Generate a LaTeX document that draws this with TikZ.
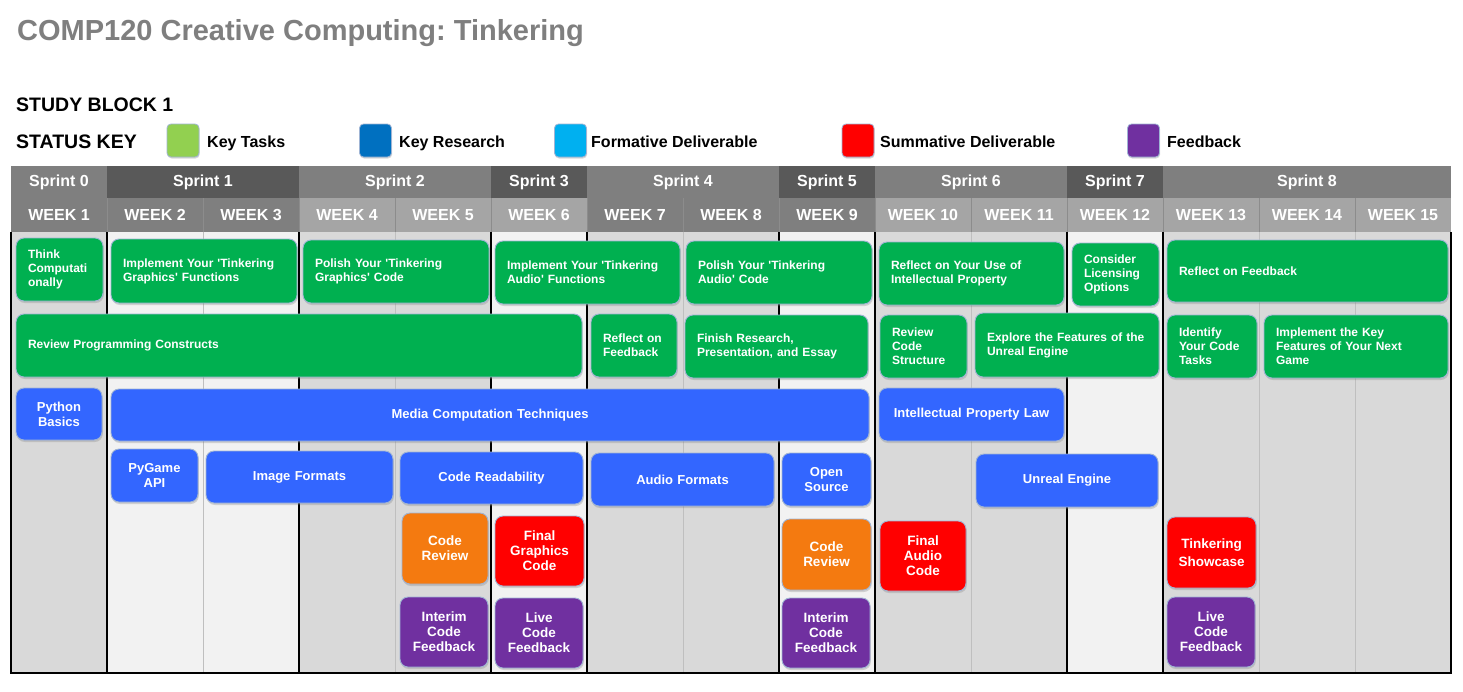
\documentclass[tikz,border=0pt]{standalone}
\usepackage{fontspec}
\setmainfont{Liberation Sans}[Ligatures=TeXOff]
\usetikzlibrary{shadows}
\frenchspacing

\definecolor{hdrmid}{HTML}{7F7F7F}
\definecolor{hdrdark}{HTML}{595959}
\definecolor{hdrlight}{HTML}{A5A5A5}
\definecolor{hdrline}{HTML}{8C8C8C}
\definecolor{coldark}{HTML}{D9D9D9}
\definecolor{collight}{HTML}{F2F2F2}
\definecolor{weekline}{HTML}{BFBFBF}
\definecolor{taskgreen}{HTML}{00B050}
\definecolor{resblue}{HTML}{3366FF}
\definecolor{revorange}{HTML}{F47A10}
\definecolor{summred}{HTML}{FF0000}
\definecolor{fbpurple}{HTML}{7030A0}
\definecolor{keygreen}{HTML}{92D050}
\definecolor{keyblue}{HTML}{0070C0}
\definecolor{keycyan}{HTML}{00B0F0}
\definecolor{boxedge}{HTML}{9FB4D4}
\definecolor{titlegray}{HTML}{7F7F7F}

% card: name, style, side padding, x1, y1, x2, y2, text
\newcommand\tbox[8]{%
  \pgfmathsetmacro\tbw{#6-#4-2*#3}%
  \pgfmathsetmacro\tbh{#7-#5}%
  \pgfmathsetmacro\tbx{(#4+#6)/2}%
  \pgfmathsetmacro\tby{(#5+#7)/2}%
  \node[#2, inner xsep=#3pt, text width=\tbw pt, minimum height=\tbh pt] (#1) at (\tbx,\tby) {#8};}

\begin{document}
\begin{tikzpicture}[x=1pt,y=-1pt,
  hcell/.style={draw=none, inner sep=0pt, text=white,
    font=\fontsize{16}{18}\selectfont\bfseries},
  card/.style={rounded corners=8pt, draw=boxedge, line width=0.9pt, text=white,
    inner ysep=2pt,
    drop shadow={shadow xshift=0.8pt, shadow yshift=-2pt, opacity=0.3}},
  tasknode/.style={card, fill=taskgreen, align=left,
    font=\fontsize{12}{14}\selectfont\bfseries},
  resnode/.style={card, fill=resblue, align=center,
    font=\fontsize{13}{15}\selectfont\bfseries},
  reviewnode/.style={card, fill=revorange, align=center,
    font=\fontsize{13.5}{15}\selectfont\bfseries},
  summnode/.style={card, fill=summred, align=center,
    font=\fontsize{13.5}{15}\selectfont\bfseries},
  fbnode/.style={card, fill=fbpurple, align=center,
    font=\fontsize{13.5}{15}\selectfont\bfseries},
  swatch/.style={rounded corners=4pt, draw=boxedge, line width=0.8pt,
    minimum width=32pt, minimum height=33pt, inner sep=0pt,
    drop shadow={shadow xshift=0.6pt, shadow yshift=-1.5pt, opacity=0.3}},
  keytext/.style={anchor=base west, inner sep=0pt,
    font=\fontsize{16}{18}\selectfont\bfseries},
  heading/.style={anchor=base west, inner sep=0pt,
    font=\fontsize{19.5}{22}\selectfont\bfseries}
]
\useasboundingbox (0,0) rectangle (1463,691);
\fill[white] (0,0) rectangle (1463,691);

% title and key
\node[anchor=base west, inner sep=0pt, text=titlegray,
  font=\fontsize{29}{33}\selectfont\bfseries] (title) at (17,40)
  {COMP120 Creative Computing: Tinkering};
\node[heading] (block) at (16,111) {STUDY BLOCK 1};
\node[heading] (statuskey) at (16,148) {STATUS KEY};

\node[swatch, fill=keygreen] (swtask) at (183,140.5) {};
\node[keytext] (lbtask) at (207,147) {Key Tasks};
\node[swatch, fill=keyblue] (swres) at (375.5,140.5) {};
\node[keytext] (lbres) at (399,147) {Key Research};
\node[swatch, fill=keycyan] (swform) at (570.5,140.5) {};
\node[keytext] (lbform) at (591,147) {Formative Deliverable};
\node[swatch, fill=summred] (swsumm) at (858,140.5) {};
\node[keytext] (lbsumm) at (880,147) {Summative Deliverable};
\node[swatch, fill=fbpurple] (swfb) at (1143.5,140.5) {};
\node[keytext] (lbfb) at (1167,147) {Feedback};

% column backgrounds, one shade per sprint
\foreach \a/\b/\c in {0/1/coldark,1/3/collight,3/5/coldark,5/6/collight,
    6/8/coldark,8/9/collight,9/11/coldark,11/12/collight,12/15/coldark}
  \fill[\c] ({11+96*\a},232) rectangle ({11+96*\b},673);
\foreach \i in {2,4,7,10,13,14}
  \draw[weekline, line width=0.8pt] ({11+96*\i},232) -- ({11+96*\i},673);
\foreach \i in {1,3,5,6,8,9,11,12}
  \draw[black, line width=1.2pt] ({11+96*\i},232) -- ({11+96*\i},673);
\draw[black, line width=1.2pt] (11,232) -- (11,673) -- (1451,673) -- (1451,232);

% sprint row
\foreach \n/\a/\b/\c in {0/0/1/hdrmid,1/1/3/hdrdark,2/3/5/hdrmid,3/5/6/hdrdark,
    4/6/8/hdrmid,5/8/9/hdrdark,6/9/11/hdrmid,7/11/12/hdrdark,8/12/15/hdrmid}
  \node[hcell, fill=\c, minimum height=32pt,
    minimum width={96*(\b-\a)*1pt}] (sprint\n) at ({11+48*(\a+\b)},182) {Sprint \n};

% week row
\foreach \w/\c in {1/hdrmid,2/hdrmid,3/hdrmid,4/hdrlight,5/hdrlight,6/hdrlight,
    7/hdrmid,8/hdrmid,9/hdrmid,10/hdrlight,11/hdrlight,12/hdrlight,
    13/hdrlight,14/hdrlight,15/hdrlight}
  \node[hcell, fill=\c, minimum height=34pt, minimum width=96pt]
    (week\w) at ({96*\w-37},215) {WEEK \w};
\foreach \i in {1,...,14}
  \draw[hdrline, line width=0.8pt] ({11+96*\i},198) -- ({11+96*\i},232);

% key tasks
\tbox{think}{tasknode}{12}{16}{238}{103}{301}{Think\\Computati\\onally}
\tbox{implgfx}{tasknode}{12}{111}{239}{297}{303}{Implement Your 'Tinkering\\Graphics' Functions}
\tbox{polgfx}{tasknode}{12}{303}{240}{489}{303}{Polish Your 'Tinkering\\Graphics' Code}
\tbox{implaud}{tasknode}{12}{495}{241}{680}{304}{Implement Your 'Tinkering\\Audio' Functions}
\tbox{polaud}{tasknode}{12}{686}{241}{872}{304}{Polish Your 'Tinkering\\Audio' Code}
\tbox{reflip}{tasknode}{12}{879}{242}{1064}{305}{Reflect on Your Use of\\Intellectual Property}
\tbox{licence}{tasknode}{12}{1072}{243}{1159}{306}{Consider\\Licensing\\Options}
\tbox{reflfbb}{tasknode}{12}{1167}{240}{1448}{302}{Reflect on Feedback}

\tbox{revprog}{tasknode}{12}{16}{314}{582}{377}{Review Programming Constructs}
\tbox{reflfba}{tasknode}{12}{591}{314}{677}{377}{Reflect on\\Feedback}
\tbox{finish}{tasknode}{12}{685}{315}{868}{378}{Finish Research,\\Presentation, and Essay}
\tbox{revcode}{tasknode}{12}{880}{315}{967}{378}{Review\\Code\\Structure}
\tbox{explore}{tasknode}{12}{975}{313}{1159}{377}{Explore the Features of the\\Unreal Engine}
\tbox{identify}{tasknode}{12}{1167}{315}{1257}{378}{Identify\\Your Code\\Tasks}
\tbox{implkey}{tasknode}{12}{1264}{315}{1448}{378}{Implement the Key\\Features of Your Next\\Game}

% key research
\tbox{python}{resnode}{6}{16}{388}{102}{440}{Python\\Basics}
\tbox{media}{resnode}{6}{111}{389}{869}{441}{Media Computation Techniques}
\tbox{iplaw}{resnode}{6}{879}{388}{1064}{441}{Intellectual Property Law}

\tbox{pygame}{resnode}{6}{111}{449}{198}{502}{PyGame\\API}
\tbox{imgfmt}{resnode}{6}{206}{451}{393}{503}{Image Formats}
\tbox{readab}{resnode}{6}{400}{452}{583}{504}{Code Readability}
\tbox{audfmt}{resnode}{6}{591}{453}{774}{506}{Audio Formats}
\tbox{opensrc}{resnode}{6}{782}{453}{871}{506}{Open\\Source}
\tbox{unreal}{resnode}{6}{976}{454}{1158}{507}{Unreal Engine}

% reviews and deliverables
\tbox{reviewa}{reviewnode}{6}{402}{513}{488}{584}{Code\\Review}
\tbox{finalgfx}{summnode}{6}{495}{516}{584}{586}{Final\\Graphics\\Code}
\tbox{reviewb}{reviewnode}{6}{782}{519}{871}{590}{Code\\Review}
\tbox{finalaud}{summnode}{6}{880}{521}{966}{591}{Final\\Audio\\Code}
\tbox{showcase}{summnode}{6}{1167}{517}{1256}{588}{Tinkering\\[3pt]Showcase}

% feedback
\tbox{interima}{fbnode}{6}{400}{597}{488}{667}{Interim\\Code\\Feedback}
\tbox{livea}{fbnode}{6}{495}{598}{583}{668}{Live\\Code\\Feedback}
\tbox{interimb}{fbnode}{6}{782}{598}{870}{668}{Interim\\Code\\Feedback}
\tbox{liveb}{fbnode}{6}{1167}{597}{1255}{667}{Live\\Code\\Feedback}
\end{tikzpicture}
\end{document}
